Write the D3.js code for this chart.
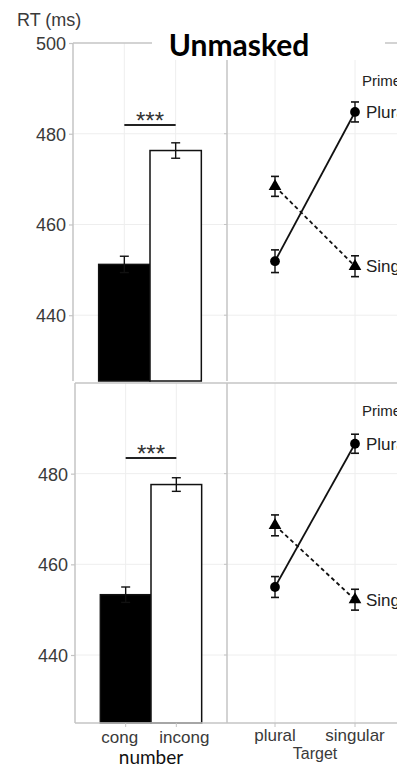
<!DOCTYPE html>
<html>
<head>
<meta charset="utf-8">
<script src="https://cdn.jsdelivr.net/npm/d3@7"></script>
<style>
  body { margin: 0; background: #fff; }
  svg { display: block; }
</style>
</head>
<body>
<svg width="397" height="766"></svg>
<script>
var svg = d3.select("svg");

// data
var barCats = ["cong", "incong"];
var targets = ["plural", "singular"];
var primes = ["Plural", "Singular"];
var yTicks = [440, 460, 480, 500];

var barMeanTop = [451.2, 476.3];
var barErrTop = [1.8, 1.7];
var barMeanBot = [453.3, 477.6];
var barErrBot = [1.7, 1.5];

var plurPrimeTop = [451.9, 484.8];
var plurPrimeErrTop = [2.5, 2.2];
var singPrimeTop = [468.4, 450.8];
var singPrimeErrTop = [2.2, 2.3];

var plurPrimeBot = [455.0, 486.6];
var plurPrimeErrBot = [2.3, 2.1];
var singPrimeBot = [468.6, 452.2];
var singPrimeErrBot = [2.3, 2.3];

var gridColor = "#eeeeee";
var axisColor = "#c4c4c4";
var textColor = "#3a3a3a";
var sans = "Liberation Sans, Arial, sans-serif";

function drawPanel(opt) {
    var g = svg.append("g");

    var y = d3.scaleLinear().domain(opt.yDomain).range([opt.bottom, opt.top]);
    var xBar = d3.scaleLinear().domain([0, 3]).range([opt.left, opt.mid]);
    var xLine = d3.scaleLinear().domain([0.4, 2.6]).range([opt.mid, opt.mid + 176]);

    // grid
    var grid = g.append("g");
    grid.selectAll("line.h")
        .data(yTicks.filter(function(d) { return y(d) > opt.top + 2; }))
        .enter()
        .append("line")
        .attr("x1", opt.left)
        .attr("x2", 400)
        .attr("y1", function(d) { return y(d); })
        .attr("y2", function(d) { return y(d); })
        .style("stroke", gridColor);
    grid.selectAll("line.vb")
        .data(barCats)
        .enter()
        .append("line")
        .attr("x1", function(d, i) { return xBar(i + 1); })
        .attr("x2", function(d, i) { return xBar(i + 1); })
        .attr("y1", opt.top)
        .attr("y2", opt.bottom)
        .style("stroke", gridColor);
    grid.selectAll("line.vl")
        .data(targets)
        .enter()
        .append("line")
        .attr("x1", function(d, i) { return xLine(i + 1); })
        .attr("x2", function(d, i) { return xLine(i + 1); })
        .attr("y1", opt.top)
        .attr("y2", opt.bottom)
        .style("stroke", gridColor);

    // bars
    g.selectAll("rect.bar")
        .data(opt.barMean)
        .enter()
        .append("rect")
        .attr("x", function(d, i) { return xBar(i + 0.5); })
        .attr("width", xBar(1) - xBar(0))
        .attr("y", function(d) { return y(d); })
        .attr("height", function(d) { return opt.bottom - y(d); })
        .attr("fill", function(d, i) { return i === 0 ? "#000" : "#fff"; })
        .attr("stroke", "#111")
        .attr("stroke-width", 1.5);

    // bar error bars
    var eb = g.selectAll("g.eb")
        .data(opt.barMean)
        .enter()
        .append("g")
        .attr("stroke", "#111")
        .attr("stroke-width", 1.4);
    eb.append("line")
        .attr("x1", function(d, i) { return xBar(i + 1); })
        .attr("x2", function(d, i) { return xBar(i + 1); })
        .attr("y1", function(d, i) { return y(d + opt.barErr[i]); })
        .attr("y2", function(d, i) { return y(d - opt.barErr[i]); });
    [1, -1].forEach(function(s) {
        eb.append("line")
            .attr("x1", function(d, i) { return xBar(i + 1) - 4.5; })
            .attr("x2", function(d, i) { return xBar(i + 1) + 4.5; })
            .attr("y1", function(d, i) { return y(d + s * opt.barErr[i]); })
            .attr("y2", function(d, i) { return y(d + s * opt.barErr[i]); });
    });

    // significance
    g.append("line")
        .attr("x1", xBar(1))
        .attr("x2", xBar(2))
        .attr("y1", opt.sigY)
        .attr("y2", opt.sigY)
        .style("stroke", "#222")
        .attr("stroke-width", 2);
    g.append("text")
        .attr("x", xBar(1.5))
        .attr("y", opt.sigY + 4)
        .attr("text-anchor", "middle")
        .style("font-family", sans)
        .style("font-size", "24px")
        .style("fill", "#333")
        .text("***");

    // interaction lines
    var series = [
        { name: primes[0], vals: opt.plur, errs: opt.plurErr, dash: null, shape: d3.symbolCircle },
        { name: primes[1], vals: opt.sing, errs: opt.singErr, dash: "4,3", shape: d3.symbolTriangle }
    ];
    var line = d3.line()
        .x(function(d, i) { return xLine(i + 1); })
        .y(function(d) { return y(d); });

    series.forEach(function(s) {
        var sg = g.append("g");
        sg.append("path")
            .attr("d", line(s.vals))
            .attr("fill", "none")
            .attr("stroke", "#111")
            .attr("stroke-width", 1.8)
            .attr("stroke-dasharray", s.dash);
        s.vals.forEach(function(v, i) {
            var cx = xLine(i + 1);
            var e = s.errs[i];
            sg.append("line")
                .attr("x1", cx).attr("x2", cx)
                .attr("y1", y(v + e)).attr("y2", y(v - e))
                .attr("stroke", "#111").attr("stroke-width", 1.4);
            [1, -1].forEach(function(k) {
                sg.append("line")
                    .attr("x1", cx - 4).attr("x2", cx + 4)
                    .attr("y1", y(v + k * e)).attr("y2", y(v + k * e))
                    .attr("stroke", "#111").attr("stroke-width", 1.6);
            });
            sg.append("path")
                .attr("d", d3.symbol().type(s.shape).size(s.shape === d3.symbolCircle ? 75 : 70)())
                .attr("transform", "translate(" + cx + "," + y(v) + ")")
                .attr("fill", "#000");
        });
        sg.append("text")
            .attr("x", xLine(2) + 11)
            .attr("y", y(s.vals[1]) + 6)
            .style("font-family", sans)
            .style("font-size", "17px")
            .style("fill", "#222")
            .text(s.name);
    });

    g.append("text")
        .attr("x", xLine(2) + 7)
        .attr("y", opt.primeY)
        .style("font-family", sans)
        .style("font-size", "15px")
        .style("fill", "#222")
        .text("Prime");

    // frame
    var frame = g.append("g")
        .attr("stroke", axisColor)
        .attr("stroke-width", 1.5);
    frame.append("line").attr("x1", opt.left).attr("x2", 400).attr("y1", opt.top).attr("y2", opt.top);
    frame.append("line").attr("x1", opt.left).attr("x2", opt.left).attr("y1", opt.top).attr("y2", opt.bottom);
    frame.append("line").attr("x1", opt.mid).attr("x2", opt.mid).attr("y1", opt.top).attr("y2", opt.bottom);
    if (opt.xAxis) {
        frame.append("line").attr("x1", opt.left).attr("x2", 400).attr("y1", opt.bottom).attr("y2", opt.bottom);
    }

    // y axis
    var yAxis = d3.axisLeft(y).tickValues(yTicks).tickSize(4).tickPadding(3);
    var ya = g.append("g")
        .attr("transform", "translate(" + opt.left + ",0)")
        .call(yAxis);
    ya.select(".domain").remove();
    ya.selectAll(".tick line").attr("stroke", axisColor).attr("stroke-width", 1.2);
    ya.selectAll(".tick text")
        .style("font-family", sans)
        .style("font-size", "18px")
        .style("fill", textColor)
        .attr("dy", "0.36em");
    ya.selectAll(".tick").filter(function(d) { return d === 500 && !opt.show500; }).remove();

    // small ticks on right panel left edge
    g.selectAll("line.rt")
        .data(yTicks.filter(function(d) { return y(d) > opt.top + 2; }))
        .enter()
        .append("line")
        .attr("x1", opt.mid - 3)
        .attr("x2", opt.mid)
        .attr("y1", function(d) { return y(d); })
        .attr("y2", function(d) { return y(d); })
        .attr("stroke", axisColor);

    if (opt.xAxis) {
        var xa = g.append("g");
        barCats.forEach(function(c, i) {
            xa.append("line")
                .attr("x1", xBar(i + 1)).attr("x2", xBar(i + 1))
                .attr("y1", opt.bottom).attr("y2", opt.bottom + 4)
                .attr("stroke", axisColor);
            xa.append("text")
                .attr("x", xBar(i + 1) + (i === 0 ? -6 : 8))
                .attr("y", opt.bottom + 20)
                .attr("text-anchor", "middle")
                .style("font-family", sans)
                .style("font-size", "17px")
                .style("fill", textColor)
                .text(c);
        });
        targets.forEach(function(c, i) {
            xa.append("line")
                .attr("x1", xLine(i + 1)).attr("x2", xLine(i + 1))
                .attr("y1", opt.bottom).attr("y2", opt.bottom + 4)
                .attr("stroke", axisColor);
            xa.append("text")
                .attr("x", xLine(i + 1))
                .attr("y", opt.bottom + 18)
                .attr("text-anchor", "middle")
                .style("font-family", sans)
                .style("font-size", "17px")
                .style("fill", textColor)
                .text(c);
        });
        xa.append("text")
            .attr("x", (xLine(1) + xLine(2)) / 2)
            .attr("y", opt.bottom + 36)
            .attr("text-anchor", "middle")
            .style("font-family", sans)
            .style("font-size", "16px")
            .style("fill", textColor)
            .text("Target");
        xa.append("text")
            .attr("x", xBar(1.5))
            .attr("y", opt.bottom + 41)
            .attr("text-anchor", "middle")
            .style("font-family", "Lato, Open Sans, sans-serif")
            .style("font-size", "19px")
            .style("fill", "#111")
            .text("number");
    }
}

drawPanel({
    top: 43, bottom: 381, left: 73, mid: 227,
    yDomain: [425.5, 500],
    barMean: barMeanTop, barErr: barErrTop,
    plur: plurPrimeTop, plurErr: plurPrimeErrTop,
    sing: singPrimeTop, singErr: singPrimeErrTop,
    sigY: 125, primeY: 86, show500: true, xAxis: false
});

drawPanel({
    top: 383, bottom: 723, left: 75, mid: 227,
    yDomain: [425, 500],
    barMean: barMeanBot, barErr: barErrBot,
    plur: plurPrimeBot, plurErr: plurPrimeErrBot,
    sing: singPrimeBot, singErr: singPrimeErrBot,
    sigY: 458, primeY: 416, show500: false, xAxis: true
});

// y label
svg.append("text")
    .attr("x", 17)
    .attr("y", 26)
    .style("font-family", sans)
    .style("font-size", "18px")
    .style("fill", textColor)
    .text("RT (ms)");

// title box over the top border
svg.append("rect")
    .attr("x", 152)
    .attr("y", 28)
    .attr("width", 233)
    .attr("height", 32)
    .attr("fill", "#fff");
svg.append("text")
    .attr("x", 239)
    .attr("y", 56)
    .attr("text-anchor", "middle")
    .style("font-family", "Lato, Open Sans, sans-serif")
    .style("font-weight", "bold")
    .style("font-size", "30px")
    .style("fill", "#000")
    .text("Unmasked");
</script>
</body>
</html>
